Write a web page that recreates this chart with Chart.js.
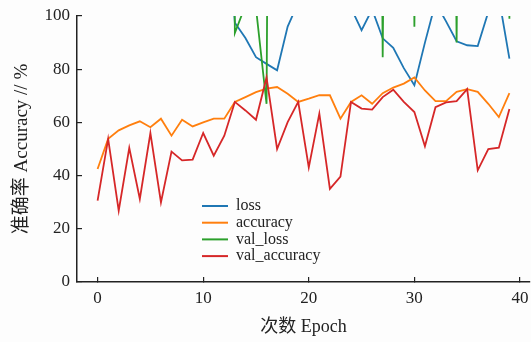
<!DOCTYPE html>
<html lang="zh">
<head>
<meta charset="UTF-8">
<title>Accuracy per epoch</title>
<script src="https://cdn.jsdelivr.net/npm/chart.js"></script>
<style>
  html, body { margin: 0; padding: 0; background: #fdfdfd; }
  #wrap { width: 531px; height: 342px; }
</style>
</head>
<body>
<div id="wrap"><canvas id="accChart" width="531" height="342"></canvas></div>
<script>
// values (loss / val_loss mostly run off the top of the axis)
const epochs = [0, 1, 2, 3, 4, 5, 6, 7, 8, 9, 10, 11, 12, 13, 14, 15, 16, 17, 18, 19,
                20, 21, 22, 23, 24, 25, 26, 27, 28, 29, 30, 31, 32, 33, 34, 35, 36, 37, 38, 39];
const loss = [420, 350, 310, 285, 262, 240, 228, 214, 200, 188, 176, 163, 150, 97.5, 91.7, 84.5, 82, 79.6, 96, 105,
              125, 118, 130, 112, 103, 94.7, 102.5, 91.6, 88, 80.4, 74, 90, 105, 98, 90.5, 89, 88.7, 101.5, 107, 84];
const accuracy = [42.5, 53.8, 57, 58.9, 60.4, 58.2, 61.4, 55, 61, 58.5, 60, 61.4, 61.4, 67.7, 69.5, 71.4, 72.7, 73.3, 70.8, 67.7,
                  68.9, 70.2, 70.2, 61.4, 67.7, 70.2, 67, 71, 73.1, 74.6, 76.9, 72, 68, 68, 71.5, 72.5, 71.5, 67, 62, 71];
const valLoss = [620, 540, 480, 710, 450, 590, 520, 680, 430, 560, 610, 490, 650, 93.6, 104, 103, 67, 720, 540, 600,
                 470, 530, 640, 510, 580, 460, 620, 84.5, 550, 700, 96, 480, 590, 520, 90, 610, 500, 560, 680, 99];
const valAccuracy = [30.6, 53.8, 26.8, 50.4, 31.2, 56, 29.9, 49, 45.7, 46, 56, 47.5, 55, 67.7, 64.5, 61, 76.9, 50, 60.1, 67.7,
                     43.1, 63.3, 35, 39.6, 67.7, 65.2, 64.8, 69.5, 72.3, 67.7, 63.9, 51, 65.7, 67.5, 68, 72.5, 42, 50, 50.5, 65];
const xTicks = [0, 10, 20, 30, 40];
const yTicks = [0, 20, 40, 60, 80, 100];

const FONT = '"Liberation Serif", "Noto Sans CJK SC", serif';
const INK = '#222';

const series = (label, values, color, order) => ({
  label: label,
  data: epochs.map((e, i) => ({ x: e, y: values[i] })),
  borderColor: color,
  backgroundColor: color,
  borderWidth: 1.8,
  pointRadius: 0,
  tension: 0,
  fill: false,
  clip: 0,
  order: order,
});

// legend sits inside the plot, lower middle, no frame
const innerLegend = {
  id: 'innerLegend',
  afterDatasetsDraw(chart) {
    const { ctx, chartArea } = chart;
    const x0 = chartArea.left + 125;
    const y0 = chartArea.top + 190;
    ctx.save();
    ctx.font = '16px ' + FONT;
    ctx.textBaseline = 'middle';
    chart.data.datasets.forEach((ds, i) => {
      const y = y0 + i * 16.7;
      ctx.strokeStyle = ds.borderColor;
      ctx.lineWidth = 2;
      ctx.beginPath();
      ctx.moveTo(x0, y);
      ctx.lineTo(x0 + 26, y);
      ctx.stroke();
      ctx.fillStyle = INK;
      ctx.fillText(ds.label, x0 + 34, y);
    });
    ctx.restore();
  }
};

new Chart(document.getElementById('accChart'), {
  type: 'line',
  data: {
    datasets: [
      series('loss', loss, '#1f77b4', 4),
      series('accuracy', accuracy, '#ff7f0e', 3),
      series('val_loss', valLoss, '#2ca02c', 2),
      series('val_accuracy', valAccuracy, '#d62728', 1),
    ]
  },
  options: {
    responsive: false,
    animation: false,
    layout: { padding: { top: 16, right: 1, left: 0, bottom: 0 } },
    plugins: {
      legend: { display: false },
      tooltip: { enabled: false },
    },
    scales: {
      x: {
        type: 'linear',
        min: -1.95,
        max: 40.95,
        afterBuildTicks: (s) => { s.ticks = xTicks.map((v) => ({ value: v })); },
        afterFit: (s) => { s.height = 60; s.paddingLeft = 0; s.paddingRight = 0; },
        border: { display: true, color: INK, width: 1.5 },
        grid: { drawOnChartArea: false, drawTicks: true, tickLength: -5, color: INK, lineWidth: 1.2 },
        ticks: { padding: 11, color: INK, font: { family: FONT, size: 17 }, maxRotation: 0, autoSkip: false },
        title: { display: true, text: '次数 Epoch', color: INK, font: { family: FONT, size: 18 }, padding: { top: 0, bottom: 4 } },
      },
      y: {
        min: 0,
        max: 100,
        afterBuildTicks: (s) => { s.ticks = yTicks.map((v) => ({ value: v })); },
        afterFit: (s) => { s.width = 77; s.paddingTop = 0; s.paddingBottom = 0; },
        border: { display: true, color: INK, width: 1.5 },
        grid: { drawOnChartArea: false, drawTicks: true, tickLength: -5, color: INK, lineWidth: 1.2 },
        ticks: { padding: 12, color: INK, font: { family: FONT, size: 17 } },
        title: { display: true, text: '准确率 Accuracy // %', color: INK, font: { family: FONT, size: 19 }, padding: { top: 11, bottom: 0 } },
      }
    }
  },
  plugins: [innerLegend]
});
</script>
</body>
</html>
